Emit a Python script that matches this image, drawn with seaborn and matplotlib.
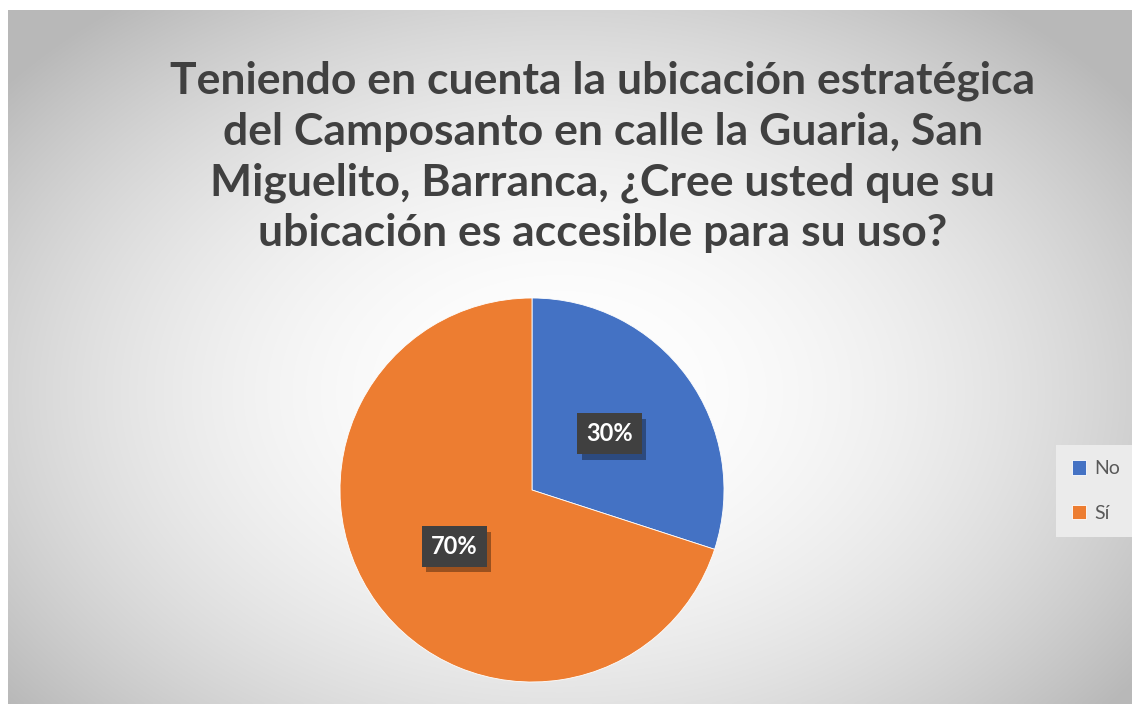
import numpy as np
import matplotlib
matplotlib.use("Agg")
import matplotlib.pyplot as plt
import matplotlib.patheffects as pe
import seaborn as sns

categories = ["No", "Sí"]
values = [30, 70]
colors = ["#4472C4", "#ED7D31"]
title = ("Teniendo en cuenta la ubicación estratégica\n"
         "del Camposanto en calle la Guaria, San\n"
         "Miguelito, Barranca, ¿Cree usted que su\n"
         "ubicación es accesible para su uso?")

sns.set_theme(style="white")
plt.rcParams['font.family'] = ['Lato', 'DejaVu Sans']

W, H = 1132, 704
fig = plt.figure(figsize=(W / 100, H / 100), dpi=100)
fig.patch.set_facecolor("white")

# radial gradient background for chart area
bg = fig.add_axes([8 / W, 0, 1 - 8 / W, 694 / H])
bg.set_axis_off()
ny, nx = 347, 562
yy, xx = np.mgrid[0:ny, 0:nx]
cx, cy = 0.49 * nx, 0.55 * ny
r = np.sqrt(((xx - cx) / (nx * 0.55)) ** 2 + ((yy - cy) / (ny * 0.62)) ** 2)
val = 1.0 - 0.21 * np.clip(r, 0, 1.15) ** 2.0
img = np.dstack([val, val, val])
bg.imshow(img, aspect="auto", extent=[0, 1, 0, 1], interpolation="bilinear")
bg.set_xlim(0, 1)
bg.set_ylim(0, 1)

# title
fig.text(603 / W, 1 - 157 / H, title, ha="center", va="center",
         fontsize=32, fontweight="bold", color="#404040", linespacing=1.32)

# pie
R = 192
cxp, cyp = 532, 490
ax = fig.add_axes([(cxp - R) / W, (H - cyp - R) / H, 2 * R / W, 2 * R / H])
wedges, texts, autotexts = ax.pie(
    values, colors=colors, startangle=90, counterclock=False,
    autopct="%1.0f%%", pctdistance=0.5,
    wedgeprops=dict(edgecolor="white", linewidth=0.6))
ax.set_aspect("equal")
ax.set_xlim(-1, 1)
ax.set_ylim(-1, 1)
for t in autotexts:
    t.set_fontsize(17)
    t.set_fontweight("bold")
    t.set_color("white")
    t.set_bbox(dict(boxstyle="square,pad=0.38", fc="#404040", ec="none"))
    t.get_bbox_patch().set_path_effects(
        [pe.SimplePatchShadow(offset=(3, -4), shadow_rgbFace="black", alpha=0.35),
         pe.Normal()])
    t.set_zorder(5)

# legend
leg = fig.legend(wedges, categories, loc="center left",
                 bbox_to_anchor=(1056 / W, 1 - 491 / H), frameon=True,
                 fontsize=14, handlelength=0.75, handleheight=0.75,
                 labelspacing=1.4, handletextpad=0.4, borderpad=0.8,
                 borderaxespad=0)
leg.get_frame().set_facecolor("#ebebeb")
leg.get_frame().set_edgecolor("none")
leg.get_frame().set_alpha(1)
leg.get_frame().set_boxstyle("square,pad=0")
for t in leg.get_texts():
    t.set_color("#595959")

fig.savefig("out.png", dpi=100, facecolor="white")
